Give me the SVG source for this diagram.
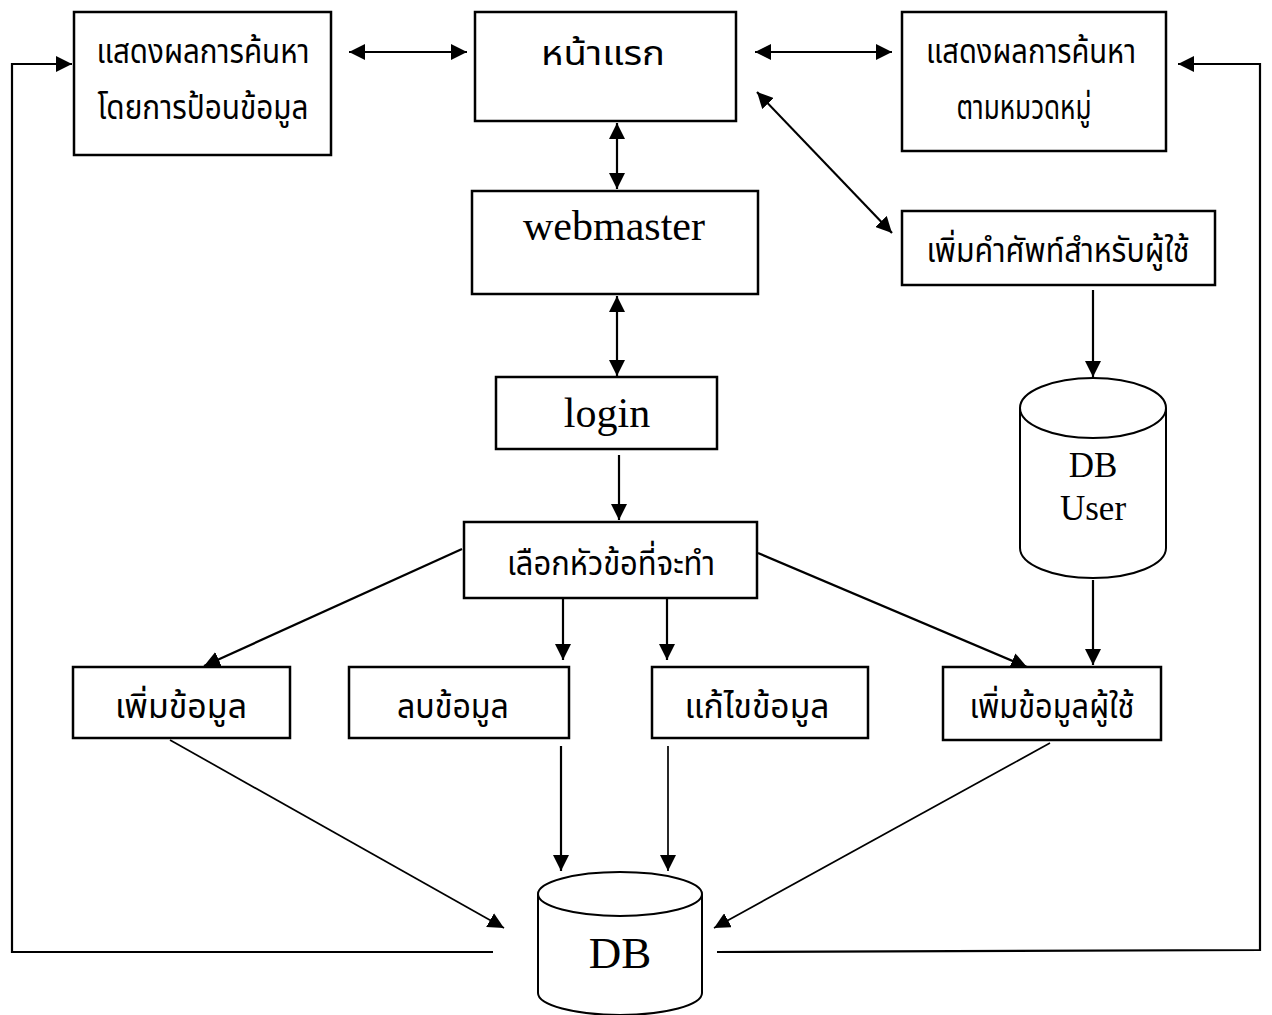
<svg xmlns="http://www.w3.org/2000/svg" width="1272" height="1015" viewBox="0 0 1272 1015">
<defs>
<marker id="ah" viewBox="0 0 16 16" refX="16" refY="8" markerWidth="16" markerHeight="16" markerUnits="userSpaceOnUse" orient="auto-start-reverse">
<path d="M0,0 L16,8 L0,16 z" fill="#000"/>
</marker>
<style>
.box{fill:#fff;stroke:#000;stroke-width:2.5}
.cyl{fill:#fff;stroke:#000;stroke-width:2}
.th{font-family:"Noto Sans Thai","Noto Sans","DejaVu Sans",sans-serif;font-size:34px;fill:#000;text-anchor:middle}
.en{font-family:"Liberation Serif","Times New Roman",serif;fill:#000;text-anchor:middle}
.ln{fill:none;stroke:#000;stroke-width:2.2}
.thin{stroke-width:1.7}
.one{marker-end:url(#ah)}
.two{marker-start:url(#ah);marker-end:url(#ah)}
</style>
</defs>
<rect width="1272" height="1015" fill="#fff"/>
<g id="connectors">
<polyline class="ln one" points="493,952 12,952 12,64 72,64"/>
<polyline class="ln one" points="717,952 1260,950 1260,64 1178,64"/>
<line class="ln two" x1="349" y1="52" x2="467" y2="52"/>
<line class="ln two" x1="755" y1="52" x2="892" y2="52"/>
<line class="ln two" x1="617" y1="123" x2="617" y2="189"/>
<line class="ln two" x1="757" y1="92" x2="892" y2="233"/>
<line class="ln two" x1="617" y1="296" x2="617" y2="376"/>
<line class="ln one" x1="619" y1="455" x2="619" y2="520"/>
<line class="ln one" x1="1093" y1="290" x2="1093" y2="377"/>
<line class="ln one" x1="1093" y1="580" x2="1093" y2="665"/>
<line class="ln one" x1="462" y1="549" x2="204" y2="666"/>
<line class="ln one" x1="563" y1="599" x2="563" y2="660"/>
<line class="ln one" x1="667" y1="599" x2="667" y2="660"/>
<line class="ln one" x1="758" y1="553" x2="1027" y2="667"/>
<line class="ln one thin" x1="170" y1="740" x2="504" y2="928"/>
<line class="ln one" x1="561" y1="746" x2="561" y2="871"/>
<line class="ln one thin" x1="668" y1="746" x2="668" y2="871"/>
<line class="ln one thin" x1="1050" y1="743" x2="714" y2="928"/>
</g>
<g id="search-input">
<rect class="box" x="74" y="12" width="257" height="143"/>
<text class="th" x="203" y="63" textLength="213" lengthAdjust="spacingAndGlyphs">แสดงผลการค้นหา</text>
<text class="th" x="203" y="119" textLength="211" lengthAdjust="spacingAndGlyphs">โดยการป้อนข้อมูล</text>
</g>
<g id="home">
<rect class="box" x="475" y="12" width="261" height="109"/>
<text class="th" x="603" y="65" textLength="124" lengthAdjust="spacingAndGlyphs">หน้าแรก</text>
</g>
<g id="search-category">
<rect class="box" x="902" y="12" width="264" height="139"/>
<text class="th" x="1031" y="63" textLength="210" lengthAdjust="spacingAndGlyphs">แสดงผลการค้นหา</text>
<text class="th" x="1024" y="119" textLength="135" lengthAdjust="spacingAndGlyphs">ตามหมวดหมู่</text>
</g>
<g id="webmaster">
<rect class="box" x="472" y="191" width="286" height="103"/>
<text class="en" x="614" y="240" font-size="42">webmaster</text>
</g>
<g id="add-term">
<rect class="box" x="902" y="211" width="313" height="74"/>
<text class="th" x="1058" y="262" textLength="263" lengthAdjust="spacingAndGlyphs">เพิ่มคำศัพท์สำหรับผู้ใช้</text>
</g>
<g id="login">
<rect class="box" x="496" y="377" width="221" height="72"/>
<text class="en" x="607" y="427" font-size="42">login</text>
</g>
<g id="choose">
<rect class="box" x="464" y="522" width="293" height="76"/>
<text class="th" x="611" y="575" textLength="208" lengthAdjust="spacingAndGlyphs">เลือกหัวข้อที่จะทำ</text>
</g>
<g id="db-user">
<path class="cyl" d="M1020,408 L1020,548 A73,30 0 0 0 1166,548 L1166,408"/>
<ellipse class="cyl" cx="1093" cy="408" rx="73" ry="30"/>
<text class="en" x="1093" y="477" font-size="35">DB</text>
<text class="en" x="1093" y="520" font-size="35">User</text>
</g>
<g id="add-data">
<rect class="box" x="73" y="667" width="217" height="71"/>
<text class="th" x="181" y="718" textLength="132" lengthAdjust="spacingAndGlyphs">เพิ่มข้อมูล</text>
</g>
<g id="delete-data">
<rect class="box" x="349" y="667" width="220" height="71"/>
<text class="th" x="453" y="718" textLength="112" lengthAdjust="spacingAndGlyphs">ลบข้อมูล</text>
</g>
<g id="edit-data">
<rect class="box" x="652" y="667" width="216" height="71"/>
<text class="th" x="757" y="718" textLength="145" lengthAdjust="spacingAndGlyphs">แก้ไขข้อมูล</text>
</g>
<g id="add-user">
<rect class="box" x="943" y="667" width="218" height="73"/>
<text class="th" x="1052" y="718" textLength="165" lengthAdjust="spacingAndGlyphs">เพิ่มข้อมูลผู้ใช้</text>
</g>
<g id="db">
<path class="cyl" d="M538,894 L538,993 A82,22 0 0 0 702,993 L702,894"/>
<ellipse class="cyl" cx="620" cy="894" rx="82" ry="22"/>
<text class="en" x="620" y="968" font-size="45">DB</text>
</g>
</svg>
